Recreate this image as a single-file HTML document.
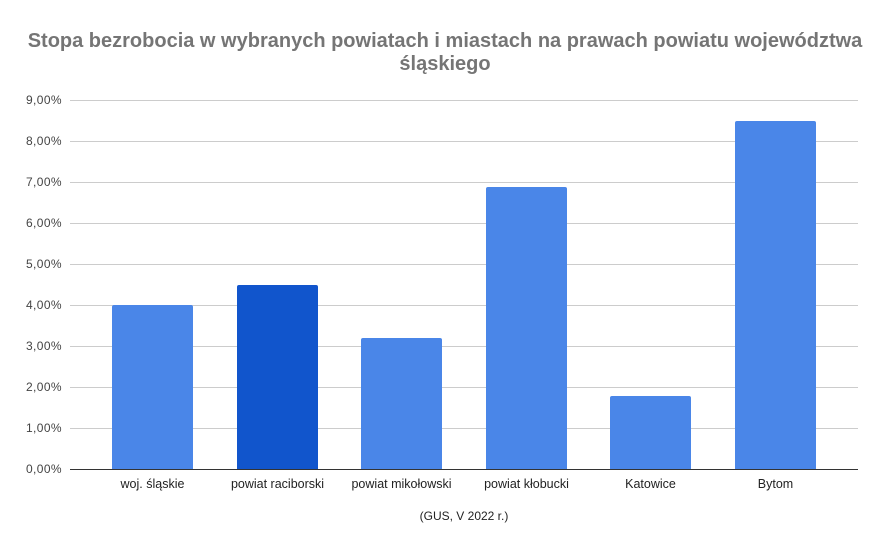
<!DOCTYPE html>
<html><head><meta charset="utf-8"><style>
body{margin:0;background:#fff;}
svg{display:block;font-family:"Liberation Sans",Arial,sans-serif;}
</style></head><body>
<svg width="886" height="549" viewBox="0 0 886 549">
<rect width="886" height="549" fill="#fff"/>
<text x="445" y="47" text-anchor="middle" font-size="20" font-weight="bold" fill="#757575">Stopa bezrobocia w wybranych powiatach i miastach na prawach powiatu województwa</text>
<text x="445" y="70" text-anchor="middle" font-size="20" font-weight="bold" fill="#757575">śląskiego</text>
<g stroke="#cccccc" stroke-width="1">
<line x1="70" x2="858" y1="100.5" y2="100.5"/>
<line x1="70" x2="858" y1="141.5" y2="141.5"/>
<line x1="70" x2="858" y1="182.5" y2="182.5"/>
<line x1="70" x2="858" y1="223.5" y2="223.5"/>
<line x1="70" x2="858" y1="264.5" y2="264.5"/>
<line x1="70" x2="858" y1="305.5" y2="305.5"/>
<line x1="70" x2="858" y1="346.5" y2="346.5"/>
<line x1="70" x2="858" y1="387.5" y2="387.5"/>
<line x1="70" x2="858" y1="428.5" y2="428.5"/>
</g>
<g font-size="12" fill="#444" text-anchor="end" letter-spacing="0.4">
<text x="62" y="104">9,00%</text>
<text x="62" y="145">8,00%</text>
<text x="62" y="186">7,00%</text>
<text x="62" y="227">6,00%</text>
<text x="62" y="268">5,00%</text>
<text x="62" y="309">4,00%</text>
<text x="62" y="350">3,00%</text>
<text x="62" y="391">2,00%</text>
<text x="62" y="432">1,00%</text>
<text x="62" y="473">0,00%</text>
</g>
<g fill="#4a86e8">
<path d="M112,469V307a2,2 0 0 1 2,-2H191a2,2 0 0 1 2,2V469Z"/>
<path fill="#1155cc" d="M237,469V287a2,2 0 0 1 2,-2H316a2,2 0 0 1 2,2V469Z"/>
<path d="M361,469V340a2,2 0 0 1 2,-2H440a2,2 0 0 1 2,2V469Z"/>
<path d="M486,469V189a2,2 0 0 1 2,-2H565a2,2 0 0 1 2,2V469Z"/>
<path d="M610,469V398a2,2 0 0 1 2,-2H689a2,2 0 0 1 2,2V469Z"/>
<path d="M735,469V123a2,2 0 0 1 2,-2H814a2,2 0 0 1 2,2V469Z"/>
</g>
<line x1="70" x2="858" y1="469.5" y2="469.5" stroke="#333" stroke-width="1"/>
<g font-size="12.5" fill="#222" text-anchor="middle">
<text x="152.5" y="488">woj. śląskie</text>
<text x="277.5" y="488">powiat raciborski</text>
<text x="401.5" y="488">powiat mikołowski</text>
<text x="526.5" y="488">powiat kłobucki</text>
<text x="650.5" y="488">Katowice</text>
<text x="775.5" y="488">Bytom</text>
</g>
<text x="464" y="520" text-anchor="middle" font-size="12" fill="#222">(GUS, V 2022 r.)</text>
</svg>
</body></html>
